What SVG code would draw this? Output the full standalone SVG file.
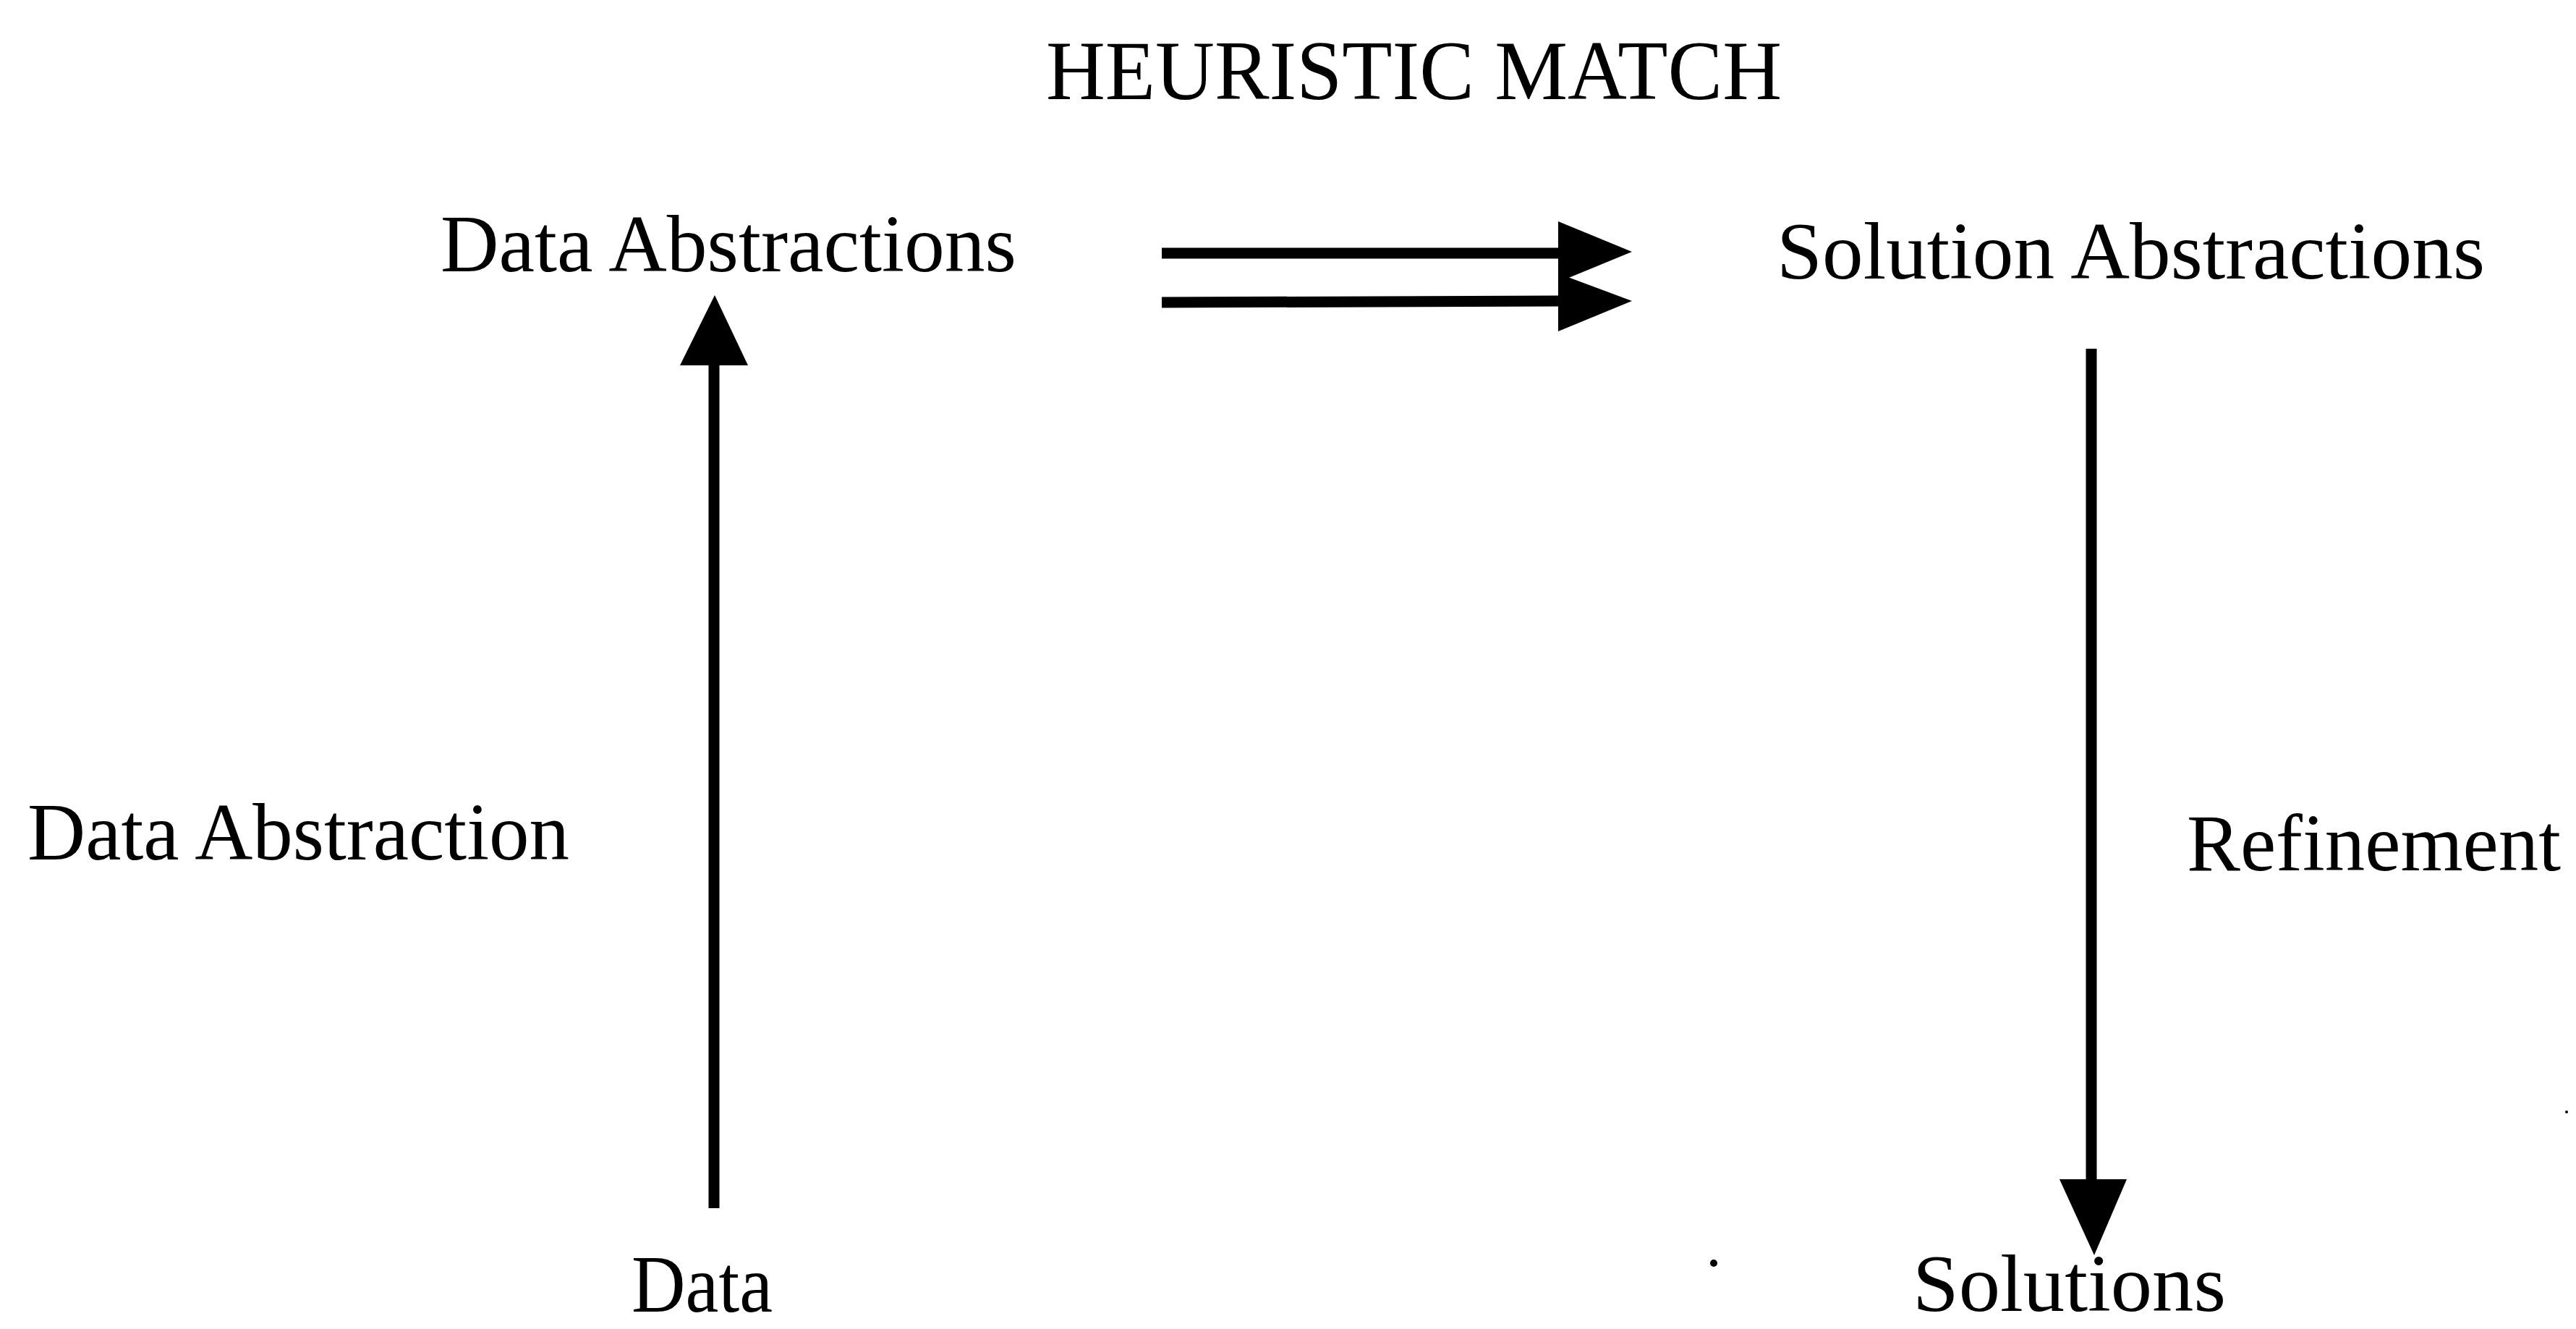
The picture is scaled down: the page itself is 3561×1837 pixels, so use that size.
<svg xmlns="http://www.w3.org/2000/svg" width="3561" height="1837" viewBox="0 0 3561 1837">
<style>
text{font-family:"Liberation Serif","Times New Roman",serif;fill:#000;font-size:112px}
.ln{stroke:#000;stroke-width:15;fill:none}
.hd{fill:#000}
</style>
<rect width="3561" height="1837" fill="#fff"/>
<text id="title" x="1446" y="137" textLength="1017" lengthAdjust="spacingAndGlyphs" style="font-size:116px">HEURISTIC MATCH</text>
<g id="data-abstractions"><text x="609" y="375" textLength="796" lengthAdjust="spacingAndGlyphs">Data Abstractions</text></g>
<g id="solution-abstractions"><text x="2456" y="385" textLength="979" lengthAdjust="spacingAndGlyphs">Solution Abstractions</text></g>
<g id="data"><text x="873" y="1813" textLength="195" lengthAdjust="spacingAndGlyphs">Data</text></g>
<g id="solutions"><text x="2644" y="1812" textLength="433" lengthAdjust="spacingAndGlyphs">Solutions</text></g>
<g id="label-data-abstraction"><text x="38" y="1188" textLength="749" lengthAdjust="spacingAndGlyphs">Data Abstraction</text></g>
<g id="label-refinement"><text x="3023" y="1203" textLength="517" lengthAdjust="spacingAndGlyphs">Refinement</text></g>
<g id="connectors">
<line class="ln" x1="1606" y1="350" x2="2160" y2="350"/>
<polygon class="hd" points="2154,306 2256,348 2154,390"/>
<line class="ln" x1="1606" y1="418" x2="2160" y2="416"/>
<polygon class="hd" points="2154,378 2256,416 2154,458"/>
<line class="ln" x1="987" y1="1670" x2="987" y2="500"/>
<polygon class="hd" points="988,408 1034,505 940,505"/>
<line class="ln" x1="2891" y1="482" x2="2891" y2="1636"/>
<polygon class="hd" points="2847,1630 2940,1630 2895,1735"/>
</g>
<circle cx="2369" cy="1746" r="5" fill="#000"/>
<circle cx="3548" cy="1537" r="2" fill="#000"/>
</svg>
